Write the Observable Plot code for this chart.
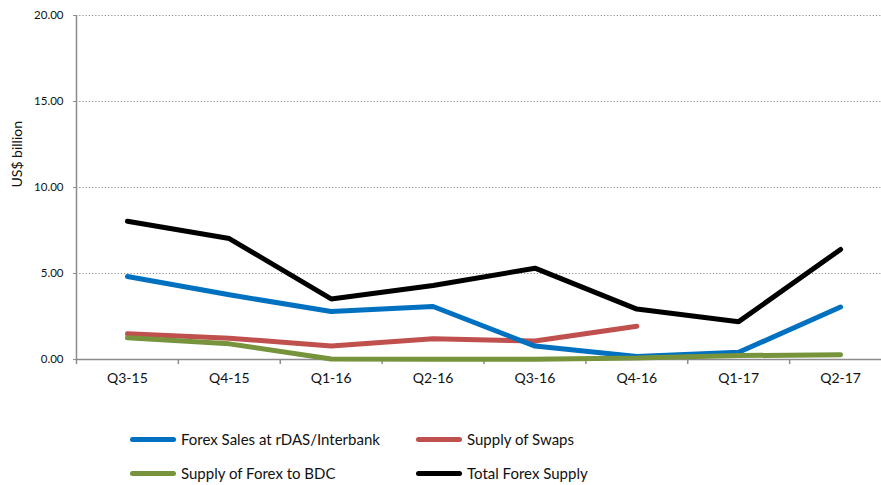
<!DOCTYPE html>
<html>
<head>
<meta charset="utf-8">
<script src="https://cdn.jsdelivr.net/npm/d3@7"></script>
<script src="https://cdn.jsdelivr.net/npm/@observablehq/plot@0.6"></script>
<style>
  body { margin: 0; background: #fff; font-family: Lato, "Open Sans", sans-serif; }
  #wrap { position: relative; width: 881px; height: 485px; overflow: hidden; }
  #legend { position: absolute; left: 0; top: 400px; width: 881px; height: 85px; }
  .item { position: absolute; display: flex; align-items: center; font-size: 15px; color: #111; white-space: nowrap; }
  .sw { width: 46px; height: 5px; border-radius: 3px; margin-right: 5px; }
</style>
</head>
<body>
<div id="wrap"><div id="chart"></div><div id="legend"></div></div>
<script>
const categories = ["Q3-15","Q4-15","Q1-16","Q2-16","Q3-16","Q4-16","Q1-17","Q2-17"];
const forexSales = [4.83, 3.76, 2.79, 3.08, 0.78, 0.17, 0.42, 3.05];
const swaps      = [1.49, 1.24, 0.78, 1.20, 1.07, 1.93];
const bdc        = [1.26, 0.91, 0.03, 0.02, 0.02, 0.08, 0.23, 0.27];
const total      = [8.04, 7.03, 3.52, 4.30, 5.31, 2.93, 2.20, 6.40];
const yTicks = [0, 5, 10, 15, 20];

const series = [
  {name: "Forex Sales at rDAS/Interbank", values: forexSales, color: "#0070C0"},
  {name: "Supply of Swaps", values: swaps, color: "#C0504D"},
  {name: "Supply of Forex to BDC", values: bdc, color: "#77933C"},
  {name: "Total Forex Supply", values: total, color: "#000000"}
];
const drawOrder = [series[1], series[0], series[2], series[3]];

const H = 400;
const idx = categories.map((_, i) => i);
const bounds = d3.range(-0.5, categories.length, 1);

const marks = [
  Plot.ruleY(yTicks.filter(d => d > 0), {stroke: "#8c8c8c", strokeWidth: 1, strokeDasharray: "1.2,2"}),
  Plot.axisY(yTicks, {tickSize: 3, tickPadding: 10, tickFormat: d => d.toFixed(2), fontSize: 11.5, fill: "#111", stroke: "#8c8c8c", label: null}),
  Plot.axisX(bounds, {tickSize: 5, tickFormat: () => "", stroke: "#8c8c8c", strokeWidth: 1.5, label: null}),
  Plot.axisX(idx, {tickSize: 0, tickPadding: 14, tickFormat: i => categories[i], fontSize: 14, fill: "#111", label: null}),
  Plot.ruleY([0], {stroke: "#8c8c8c", strokeWidth: 1.5}),
  Plot.ruleX([-0.5], {stroke: "#8c8c8c", strokeWidth: 1.5})
];
for (const s of drawOrder) {
  marks.push(Plot.line(s.values.map((v, i) => ({x: i, y: v})), {
    x: "x", y: "y", stroke: s.color, strokeWidth: 5, strokeLinecap: "round", strokeLinejoin: "miter"
  }));
}
marks.push(Plot.text(["US$ billion"], {frameAnchor: "left", dx: -59, dy: 0, rotate: -90, fontSize: 14, fill: "#111"}));

const chart = Plot.plot({
  width: 881,
  height: H,
  marginTop: 15,
  marginBottom: H - 359,
  marginLeft: 76,
  marginRight: 0,
  style: {fontFamily: "Lato, 'Open Sans', sans-serif", background: "#fff", overflow: "hidden"},
  x: {type: "linear", domain: [-0.5, 7.5], range: [76, 891]},
  y: {domain: [0, 20], range: [359, 15]},
  marks
});
document.getElementById("chart").appendChild(chart);

const legend = document.getElementById("legend");
const pos = [[130, 39], [416, 39], [130, 73], [416, 73]];
series.forEach((s, i) => {
  const el = document.createElement("div");
  el.className = "item";
  el.style.left = pos[i][0] + "px";
  el.style.top = (pos[i][1] - 10) + "px";
  el.style.height = "20px";
  el.innerHTML = `<span class="sw" style="background:${s.color}"></span><span>${s.name}</span>`;
  legend.appendChild(el);
});
</script>
</body>
</html>
